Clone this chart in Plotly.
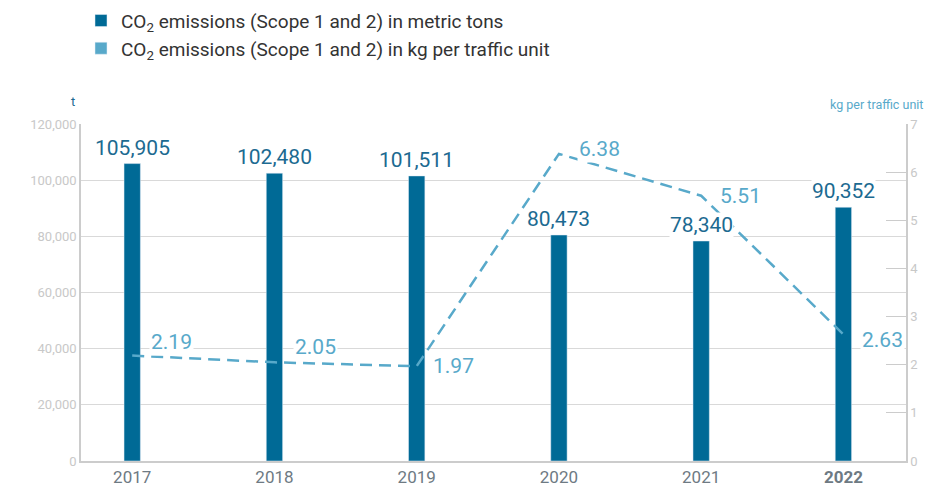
import plotly.graph_objects as go

years = ["2017", "2018", "2019", "2020", "2021", "2022"]
tons = [105905, 102480, 101511, 80473, 78340, 90352]
kg_per_unit = [2.19, 2.05, 1.97, 6.38, 5.51, 2.63]
year_labels = ["2017", "2018", "2019", "2020", "2021", "<b>2022</b>"]

# label offsets for the line values (px), picked by eye
kg_shift = [(17, 14), (19, 15), (14, 0), (18, 5), (17, 0), (17, -6)]

DARK = "#006a96"
LIGHT = "#58a9ca"
GRID = "#d9d9d9"
FONT = "Roboto, sans-serif"

idx = list(range(len(years)))

fig = go.Figure()

fig.add_trace(go.Bar(
    x=idx, y=tons, name="CO<sub>2</sub> emissions (Scope 1 and 2) in metric tons",
    marker_color=DARK, width=0.115, hoverinfo="skip"
))
# legend-only square for the line series
fig.add_trace(go.Bar(
    x=idx, y=[None] * len(years),
    name="CO<sub>2</sub> emissions (Scope 1 and 2) in kg per traffic unit",
    marker_color=LIGHT, showlegend=True
))
fig.add_trace(go.Scatter(
    x=idx, y=kg_per_unit, yaxis="y2", mode="lines",
    line=dict(color=LIGHT, width=2.5, dash="12px,7px"),
    showlegend=False, hoverinfo="skip"
))

for i, v in zip(idx, tons):
    fig.add_annotation(
        x=i, y=v, xref="x", yref="y", text=f"{v:,}", showarrow=False,
        yanchor="bottom", yshift=3, bgcolor="white", borderpad=0,
        font=dict(family=FONT, size=21, color="#1c6a91")
    )

for i, v, (dx, dy) in zip(idx, kg_per_unit, kg_shift):
    fig.add_annotation(
        x=i, y=v, xref="x", yref="y2", text=f"{v:.2f}", showarrow=False,
        xanchor="left", yanchor="middle", xshift=dx, yshift=dy,
        bgcolor="white", borderpad=1,
        font=dict(family=FONT, size=21, color=LIGHT)
    )

fig.add_annotation(x=-0.014, y=1.095, xref="paper", yref="paper", text="t",
                   showarrow=False, font=dict(family=FONT, size=13, color="#1c6a91"))
fig.add_annotation(x=1.023, y=1.085, xref="paper", yref="paper", text="kg per traffic unit",
                   xanchor="right", showarrow=False,
                   font=dict(family=FONT, size=12.5, color=LIGHT))

fig.update_layout(
    width=937, height=489,
    margin=dict(l=81, r=31, t=124, b=28, autoexpand=False),
    paper_bgcolor="white", plot_bgcolor="white",
    barmode="overlay",
    font=dict(family=FONT),
    legend=dict(x=0.0, y=1.363, xanchor="left", yanchor="top",
                font=dict(family=FONT, size=19, color="#333333"),
                tracegroupgap=0, itemclick=False),
    xaxis=dict(
        range=[-0.36, 5.44], automargin=False,
        tickvals=idx, ticktext=year_labels,
        tickfont=dict(family=FONT, size=17, color="#6e7a83"),
        showline=True, linecolor="#cccccc", linewidth=1.5,
        showgrid=False, ticks="", zeroline=False
    ),
    yaxis=dict(
        range=[0, 120000], dtick=20000, tickformat=",", automargin=False,
        tickfont=dict(family=FONT, size=13, color="#c8c8c8"),
        showgrid=True, gridcolor=GRID, gridwidth=1.2,
        showline=True, linecolor="#cccccc", linewidth=1.5,
        zeroline=False
    ),
    yaxis2=dict(
        range=[0, 7], dtick=1, overlaying="y", side="right", automargin=False,
        tickfont=dict(family=FONT, size=13, color="#c8c8c8"),
        showgrid=False, zeroline=False,
        showline=True, linecolor="#cccccc", linewidth=1.5,
        ticks="inside", ticklen=20, tickcolor="#cccccc", tickwidth=1.2
    )
)

# page has a default 8px body margin, drop it so the figure fills the window
fig.write_html("out.html", config={"displayModeBar": False},
               post_script="document.body.style.margin = '0';")
